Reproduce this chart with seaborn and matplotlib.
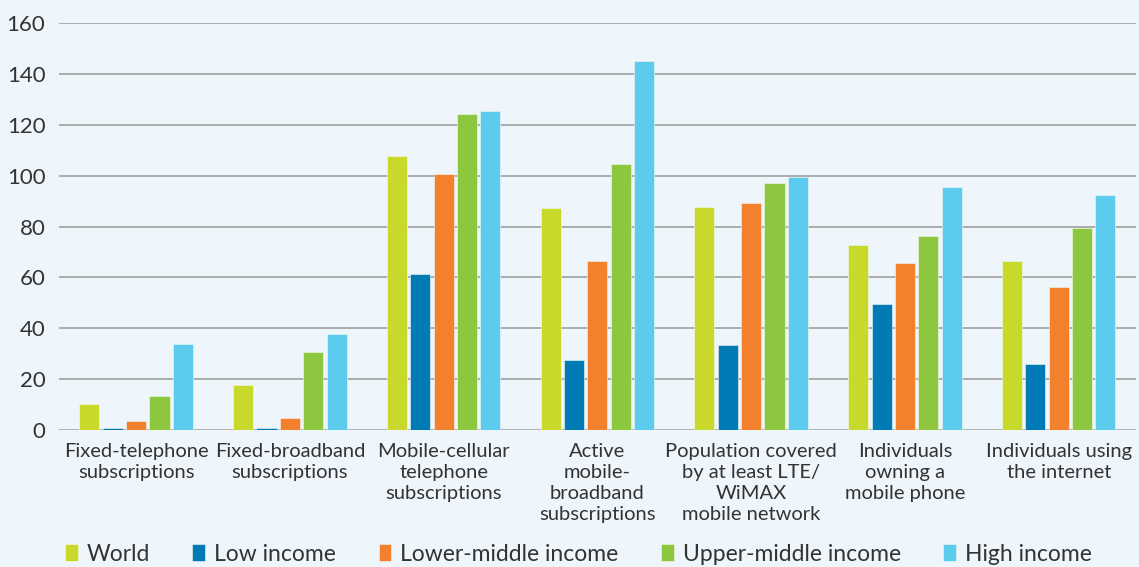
import matplotlib
matplotlib.use("Agg")
import matplotlib.pyplot as plt
import seaborn as sns
import pandas as pd

# categories along the x axis
categories = [
    "Fixed-telephone\nsubscriptions",
    "Fixed-broadband\nsubscriptions",
    "Mobile-cellular\ntelephone\nsubscriptions",
    "Active\nmobile-\nbroadband\nsubscriptions",
    "Population covered\nby at least LTE/\nWiMAX\nmobile network",
    "Individuals\nowning a\nmobile phone",
    "Individuals using\nthe internet",
]

# income groups (hue)
groups = ["World", "Low income", "Lower-middle income", "Upper-middle income", "High income"]

# values
world = [10.5, 17.7, 107.7, 87.1, 87.7, 72.9, 66.4]
low_income = [1.0, 1.0, 61.3, 27.5, 33.4, 49.6, 26.2]
lower_middle = [3.5, 5.0, 100.8, 66.4, 89.2, 65.7, 56.2]
upper_middle = [13.4, 30.8, 124.1, 104.6, 96.9, 76.2, 79.3]
high_income = [34.0, 38.0, 125.3, 144.8, 99.4, 95.4, 92.3]

colors = ["#C8D92B", "#007BB6", "#F2802C", "#8DC63F", "#5BCBEE"]
bg = "#EEF5FB"

rows = []
for g, vals in zip(groups, [world, low_income, lower_middle, upper_middle, high_income]):
    for c, v in zip(categories, vals):
        rows.append({"category": c, "group": g, "value": v})
df = pd.DataFrame(rows)

sns.set_style("white")
plt.rcParams["font.family"] = ["Lato", "DejaVu Sans"]

fig = plt.figure(figsize=(11.39, 5.67), dpi=100, facecolor=bg)
ax = fig.add_axes([0.052, 0.241, 0.945, 0.719])
ax.set_facecolor(bg)

sns.barplot(
    data=df, x="category", y="value", hue="group",
    order=categories, hue_order=groups, palette=colors, saturation=1,
    width=0.76, gap=0.14, edgecolor="#F4F8EE", linewidth=0.4,
    ax=ax, zorder=3,
)

ax.set_ylim(0, 160)
ax.set_xlim(-0.5, 6.5)
ax.set_yticks(range(0, 161, 20))
ax.yaxis.grid(True, color="#ABABAB", linewidth=1.4, zorder=0)
ax.set_axisbelow(True)
for s in ax.spines.values():
    s.set_visible(False)
ax.axhline(0, color="#B5B5B8", linewidth=1.8, zorder=2.5)

ax.set_xlabel("")
ax.set_ylabel("")
ax.tick_params(axis="y", length=0, pad=10, labelsize=16, labelcolor="#333333")
ax.tick_params(axis="x", length=0, pad=9, labelsize=14.5, labelcolor="#333333")
for lbl in ax.get_xticklabels():
    lbl.set_linespacing(1.3)
    lbl.set_verticalalignment("top")

sns.move_legend(
    ax, "lower left", bbox_to_anchor=(0.057, 0.004), bbox_transform=fig.transFigure,
    ncol=5, frameon=False, title=None, fontsize=16.5,
    handlelength=0.55, handleheight=0.75, handletextpad=0.4, columnspacing=1.85,
    borderaxespad=0, borderpad=0,
)
for t in ax.get_legend().get_texts():
    t.set_color("#333333")

fig.savefig("out.png", dpi=100, facecolor=bg)
